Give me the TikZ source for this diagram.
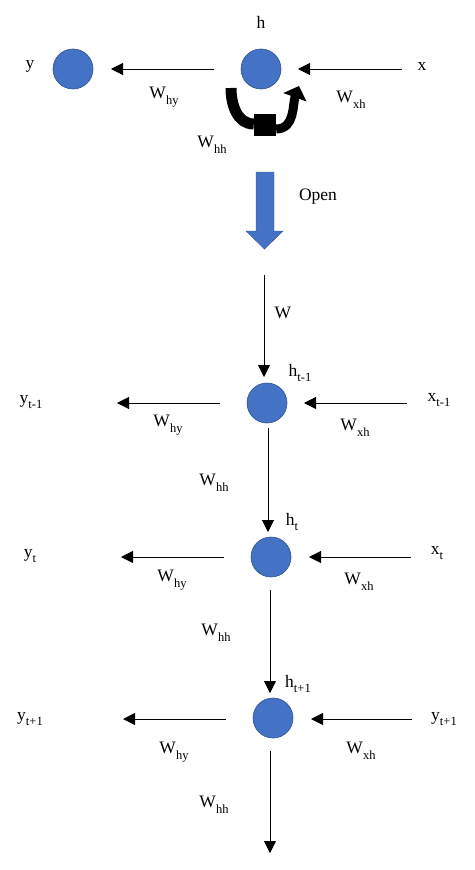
\documentclass[tikz,border=0pt]{standalone}
\usepackage{fontspec}
\setmainfont{Liberation Serif}
\usetikzlibrary{arrows.meta}
\definecolor{nodeblue}{HTML}{4472C4}
\definecolor{nodeedge}{HTML}{2F528F}
\newcommand\sbs[1]{\raisebox{-0.32em}{\fontsize{12.5}{13}\selectfont #1}}
\begin{document}
\begin{tikzpicture}[x=1pt,y=-1pt,
  unit/.style={circle,fill=nodeblue,draw=nodeedge,line width=0.6pt,minimum size=40pt,inner sep=0pt},
  lbl/.style={inner sep=0pt,font=\fontsize{17.5}{20}\selectfont},
  conn/.style={line width=0.9pt,-{Triangle[length=12pt,width=12pt]}}]
\useasboundingbox (0,0) rectangle (474,870);
% ---------- folded network ----------
\node[unit] (y) at (73,69) {};
\node[unit] (h) at (261,69) {};
\node[lbl] (hl) at (261,22) {h};
\node[lbl] (yl) at (30,66) {y};
\node[lbl] (xl) at (422,66) {x};
\coordinate (a0s) at (214,69); \coordinate (a0e) at (111,69);
\coordinate (b0s) at (402,69); \coordinate (b0e) at (298,69);
\draw[conn] (a0s) -- (a0e);
\draw[conn] (b0s) -- (b0e);
\node[lbl] (why0) at (164,97) {W\sbs{hy}};
\node[lbl] (wxh0) at (351,100) {W\sbs{xh}};
\node[lbl] (whh0) at (212,145) {W\sbs{hh}};
% self loop
\node[fill=black,minimum size=22pt,inner sep=0pt] (sq) at (265,125) {};
\coordinate (loopin) at (231,88);
\coordinate (loopout) at (299,86);
\draw[line width=11pt] (loopin) to[out=-90,in=180] ([yshift=1pt]sq.west);
\draw[line width=9pt,-{Triangle[length=12pt,width=24pt]}] ([yshift=-4pt]sq.east) to[out=0,in=-110] (loopout);
% open arrow
\path[fill=nodeblue,draw=nodeedge,line width=0.4pt]
  (256,172) -- (274,172) -- (274,231) -- (283,231) -- (264.5,249) -- (246,231) -- (256,231) -- cycle;
\node[lbl] (open) at (318,197) {Open};
% ---------- unfolded network ----------
\node[unit] (h1) at (267,403) {};
\node[unit] (h2) at (271,557) {};
\node[unit] (h3) at (273,718) {};
\coordinate (v0s) at (264,275); \coordinate (v0e) at (264,377);
\coordinate (v1s) at (268,428); \coordinate (v1e) at (268,532);
\coordinate (v2s) at (270,590); \coordinate (v2e) at (270,693);
\coordinate (v3s) at (270,751); \coordinate (v3e) at (270,853);
\node[lbl] (wl) at (283,313) {W};
\draw[conn] (v0s) -- (v0e);
\draw[conn] (v1s) -- (v1e);
\draw[conn] (v2s) -- (v2e);
\draw[conn] (v3s) -- (v3e);
\node[lbl] (h1l) at (300,373) {h\sbs{t-1}};
\node[lbl] (h2l) at (292,522) {h\sbs{t}};
\node[lbl] (h3l) at (298,684) {h\sbs{t+1}};
% row t-1
\node[lbl] (y1) at (31,402) {y\sbs{t-1}};
\node[lbl] (x1) at (439,400) {x\sbs{t-1}};
\coordinate (a1s) at (220,403); \coordinate (a1e) at (117,403);
\coordinate (b1s) at (407,403); \coordinate (b1e) at (304,403);
\draw[conn] (a1s) -- (a1e);
\draw[conn] (b1s) -- (b1e);
\node[lbl] (why1) at (168,425) {W\sbs{hy}};
\node[lbl] (wxh1) at (355,428) {W\sbs{xh}};
\node[lbl] (whh1) at (214,483) {W\sbs{hh}};
% row t
\node[lbl] (y2) at (30,556) {y\sbs{t}};
\node[lbl] (x2) at (437,553) {x\sbs{t}};
\coordinate (a2s) at (224,557); \coordinate (a2e) at (121,557);
\coordinate (b2s) at (411,557); \coordinate (b2e) at (309,557);
\draw[conn] (a2s) -- (a2e);
\draw[conn] (b2s) -- (b2e);
\node[lbl] (why2) at (172,580) {W\sbs{hy}};
\node[lbl] (wxh2) at (359,582) {W\sbs{xh}};
\node[lbl] (whh2) at (216,633) {W\sbs{hh}};
% row t+1
\node[lbl] (y3) at (30,719) {y\sbs{t+1}};
\node[lbl] (x3) at (444,719) {y\sbs{t+1}};
\coordinate (a3s) at (226,719); \coordinate (a3e) at (123,719);
\coordinate (b3s) at (412,719); \coordinate (b3e) at (311,719);
\draw[conn] (a3s) -- (a3e);
\draw[conn] (b3s) -- (b3e);
\node[lbl] (why3) at (174,752) {W\sbs{hy}};
\node[lbl] (wxh3) at (361,751) {W\sbs{xh}};
\node[lbl] (whh3) at (214,805) {W\sbs{hh}};
\end{tikzpicture}
\end{document}
